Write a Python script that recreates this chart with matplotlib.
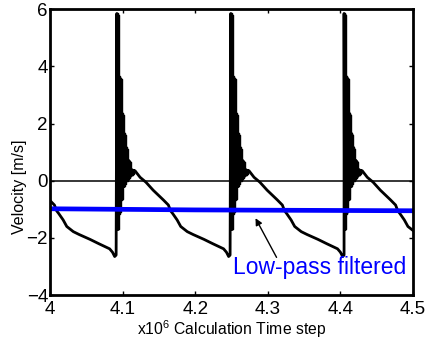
import matplotlib
matplotlib.use('Agg')
import matplotlib.pyplot as plt
import numpy as np

plt.rcParams['font.family'] = ['Liberation Sans', 'DejaVu Sans']
plt.rcParams['mathtext.default'] = 'regular'
plt.rcParams['path.simplify'] = False

# spike instants (x10^6 steps); every cycle has the same shape
spike_times = [3.935, 4.092, 4.249, 4.405]

# decaying ringing right after each spike: upper / lower envelope per step
osc_hi = [5.85, 5.8, 3.65, 3.6, 3.55, 2.37, 2.3, 1.67, 1.6, 1.18, 1.1, 0.72, 0.7, 0.65, 0.4, 0.38, 0.37, 0.35]
osc_lo = [-1.7, -1.7, -1.15, -1.1, -0.67, -0.65, -0.2, -0.2, -0.1, 0.0, 0.0, 0.05, 0.1, 0.15, 0.2, 0.2, 0.25, 0.3]
osc_len = 0.025

# slow decay after the ringing (offset from spike, velocity)
decay_dt = [0.025, 0.032, 0.040, 0.050, 0.064, 0.071, 0.074, 0.077, 0.083, 0.088,
            0.097, 0.105, 0.120, 0.132, 0.147, 0.151, 0.154, 0.156]
decay_v = [0.35, 0.12, -0.05, -0.33, -0.67, -0.85, -1.05, -1.15, -1.37, -1.6,
           -1.78, -1.88, -2.05, -2.2, -2.38, -2.5, -2.65, -2.6]

# low-pass filtered signal
lp_t = [4.0, 4.1, 4.2, 4.3, 4.4, 4.5]
lp_v = [-0.98, -1.0, -1.02, -1.03, -1.04, -1.05]

xticks = [4.0, 4.1, 4.2, 4.3, 4.4, 4.5]
xticklabels = ['4', '4.1', '4.2', '4.3', '4.4', '4.5']
yticks = [-4, -2, 0, 2, 4, 6]

# build the velocity trace cycle by cycle
osc_t = np.linspace(0, osc_len, 2 * len(osc_hi), endpoint=False)
osc_v = np.ravel(np.column_stack([osc_hi, osc_lo]))
cyc_t = np.concatenate([osc_t, decay_dt])
cyc_v = np.concatenate([osc_v, decay_v])
t = np.concatenate([t0 + cyc_t for t0 in spike_times])
v = np.tile(cyc_v, len(spike_times))
env_t = osc_t[::2]

fig = plt.figure(figsize=(4.28, 3.4), dpi=100)
ax = fig.add_axes([0.117, 0.132, 0.848, 0.841])

ax.axhline(0, color='k', linewidth=1.1)
for t0 in spike_times:
    ax.fill_between(t0 + env_t, osc_lo, osc_hi, step='post', color='k',
                    linewidth=1.0, edgecolor='k')
ax.plot(t, v, color='k', linewidth=2.0)
ax.plot(lp_t, lp_v, color='#0000ff', linewidth=3.4)

ax.annotate('', xy=(4.283, -1.31), xytext=(4.312, -2.68),
            arrowprops=dict(arrowstyle='-|>', color='k', lw=1.0,
                            mutation_scale=10, shrinkA=0, shrinkB=0))
ax.text(4.252, -3.02, 'Low-pass filtered', color='#0000ff', fontsize=16.5,
        va='center', ha='left')

ax.set_xlim(4.0, 4.5)
ax.set_ylim(-4, 6)
ax.set_xticks(xticks)
ax.set_xticklabels(xticklabels)
ax.set_yticks(yticks)
ax.tick_params(axis='both', direction='in', length=3, width=1,
               labelsize=13.5, top=True, right=True)
ax.tick_params(axis='x', pad=4)
ax.tick_params(axis='y', pad=1.5)
for s in ax.spines.values():
    s.set_linewidth(2.0)

ax.set_xlabel('x10$^{6}$ Calculation Time step', fontsize=11.3)
ax.set_ylabel('Velocity [m/s]', fontsize=11.5)
ax.xaxis.set_label_coords(0.5, -0.08)
ax.yaxis.set_label_coords(-0.063, 0.38)

fig.savefig('out.png', dpi=100)
